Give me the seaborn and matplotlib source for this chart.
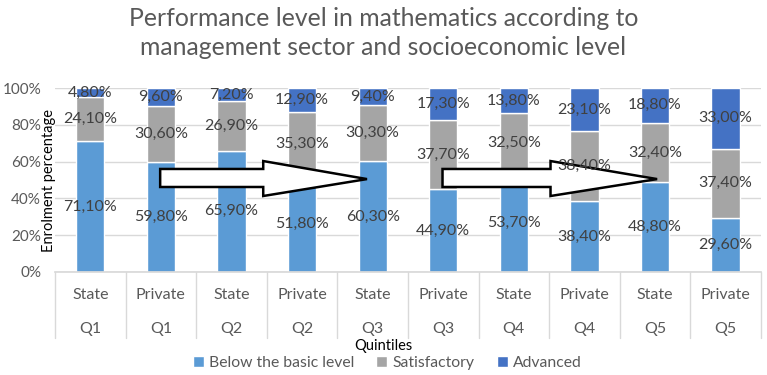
import pandas as pd
import matplotlib.pyplot as plt
import matplotlib.transforms as mtransforms
from matplotlib.patches import Patch, Polygon
from matplotlib.ticker import PercentFormatter
import seaborn as sns

# Data
sectors = ['State', 'Private', 'State', 'Private', 'State', 'Private', 'State', 'Private', 'State', 'Private']
quintiles = ['Q1', 'Q1', 'Q2', 'Q2', 'Q3', 'Q3', 'Q4', 'Q4', 'Q5', 'Q5']
below_basic = [71.1, 59.8, 65.9, 51.8, 60.3, 44.9, 53.7, 38.4, 48.8, 29.6]
satisfactory = [24.1, 30.6, 26.9, 35.3, 30.3, 37.7, 32.5, 38.4, 32.4, 37.4]
advanced = [4.8, 9.6, 7.2, 12.9, 9.4, 17.3, 13.8, 23.1, 18.8, 33.0]

levels = ['Below the basic level', 'Satisfactory', 'Advanced']
colors = ['#5B9BD5', '#A5A5A5', '#4472C4']

df = pd.DataFrame({
    'group': [f'{s} {q}' for s, q in zip(sectors, quintiles)],
    'Below the basic level': below_basic,
    'Satisfactory': satisfactory,
    'Advanced': advanced,
})

sns.set_theme(style='white')
plt.rcParams['font.family'] = ['Lato', 'DejaVu Sans']

fig = plt.figure(figsize=(7.67, 3.75), dpi=100)
ax = fig.add_axes([0.0717, 0.2747, 0.9203, 0.4906])

# Stacked bars
bottom = [0.0] * len(df)
for level, col in zip(levels, colors):
    sns.barplot(data=df, x='group', y=level, color=col, width=0.4,
                bottom=bottom, ax=ax, zorder=2, saturation=1)
    bottom = [b + v for b, v in zip(bottom, df[level])]

for cont, level in zip(ax.containers, levels):
    labels = [f'{v:.2f}%'.replace('.', ',') for v in df[level]]
    ax.bar_label(cont, labels=labels, label_type='center', fontsize=11.5,
                 color='#404040', zorder=5)

ax.set_ylim(0, 100)
ax.set_xlim(-0.5, len(df) - 0.5)
ax.set_yticks(range(0, 101, 20))
ax.yaxis.set_major_formatter(PercentFormatter(decimals=0))
ax.tick_params(axis='y', labelsize=11, labelcolor='#595959', length=0, pad=10)
ax.set_xticks([])
ax.set_xlabel('')
ax.set_ylabel('')
ax.grid(axis='y', color='#D9D9D9', linewidth=1, zorder=0)
for s in ['top', 'right', 'left']:
    ax.spines[s].set_visible(False)
ax.spines['bottom'].set_color('#D9D9D9')

ax.text(-0.0085, 0.5, 'Enrolment percentage', transform=ax.transAxes, rotation=90,
        ha='center', va='center', fontsize=10.5, color='black', zorder=6)

# Two-row category labels with separators
trans = mtransforms.blended_transform_factory(ax.transData, ax.transAxes)
for i, (s, q) in enumerate(zip(sectors, quintiles)):
    ax.text(i, -0.125, s, transform=trans, ha='center', va='center',
            fontsize=11.5, color='#595959')
    ax.text(i, -0.31, q, transform=trans, ha='center', va='center',
            fontsize=11.5, color='#595959')
for i in range(len(df) + 1):
    ax.plot([i - 0.5, i - 0.5], [0, -0.36], transform=trans, color='#D9D9D9',
            linewidth=1, clip_on=False)

fig.text(0.5, 0.077, 'Quintiles', ha='center', va='center', fontsize=10.5, color='black')

# Block arrows drawn over the chart
def block_arrow(x0, xb, xt):
    pts = [(x0, 46.2), (xb, 46.2), (xb, 41.3), (xt, 50.5), (xb, 60.3), (xb, 56.0), (x0, 56.0)]
    ax.add_patch(Polygon(pts, closed=True, facecolor='white', edgecolor='black',
                         linewidth=1.8, zorder=4))

block_arrow(0.99, 2.45, 3.92)
block_arrow(4.99, 6.52, 8.03)

handles = [Patch(facecolor=c, label=l) for c, l in zip(colors, levels)]
fig.legend(handles=handles, loc='center', bbox_to_anchor=(0.505, 0.032), ncol=3,
           frameon=False, fontsize=11.3, handlelength=0.7, handleheight=0.7,
           handletextpad=0.35, columnspacing=1.4, labelcolor='#595959')

fig.suptitle('Performance level in mathematics according to\nmanagement sector and socioeconomic level',
             x=0.5, y=0.982, va='top', fontsize=17.8, color='#595959', linespacing=1.35)

fig.savefig('out.png', dpi=100)
